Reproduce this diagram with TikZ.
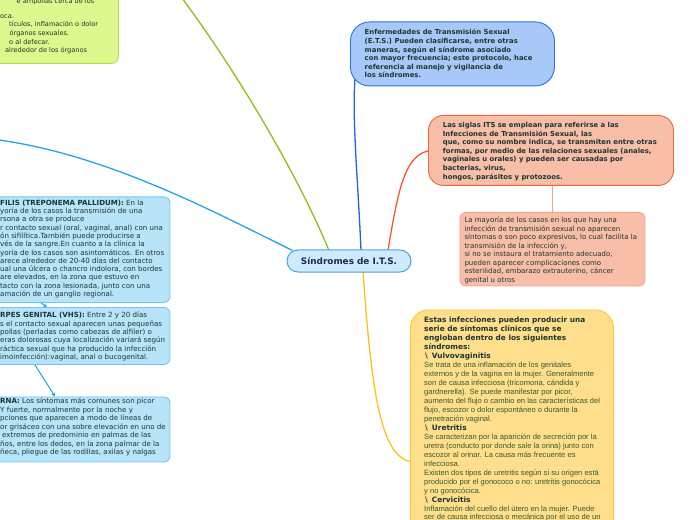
\documentclass[tikz,border=0pt]{standalone}
\usepackage{fontspec}
\setmainfont{DejaVu Sans}
\newfontfamily\libsans{Liberation Sans}
\usetikzlibrary{calc,arrows.meta}
\pgfdeclarelayer{bg}
\pgfsetlayers{bg,main}
\definecolor{gfill}{HTML}{DDF88C}
\definecolor{gline}{HTML}{B4DC55}
\definecolor{bfill}{HTML}{A8C8FA}
\definecolor{bline}{HTML}{2E6FE6}
\definecolor{sfill}{HTML}{F8BEA8}
\definecolor{sline}{HTML}{F06634}
\definecolor{stwoline}{HTML}{F5A48A}
\definecolor{lfill}{HTML}{B8E4FA}
\definecolor{lline}{HTML}{70C8F0}
\definecolor{cfill}{HTML}{CDEBFC}
\definecolor{cline}{HTML}{4AA3DE}
\definecolor{yfill}{HTML}{FFDE8C}
\definecolor{yline}{HTML}{FFC533}
\definecolor{cgreen}{HTML}{8CBE1E}
\definecolor{cblue}{HTML}{1FA5E8}
\definecolor{cdblue}{HTML}{2363E0}
\definecolor{corange}{HTML}{F05A28}
\definecolor{cyellow}{HTML}{FFBF1F}
\definecolor{tdark}{HTML}{1D3530}
\definecolor{tnavy}{HTML}{1B2B4E}
\definecolor{ytext}{HTML}{3A5A2C}
\newcommand\strt{\rule{0pt}{7bp}}
\newcommand\yb{\rmfamily\bfseries\fontsize{7.4}{9}\selectfont\color{tdark}}
\newcommand\yh[1]{{\yb\hspace*{1bp}\textbackslash\hspace{4bp}#1}}
\begin{document}
\begin{tikzpicture}[x=1bp,y=-1bp,
  box/.style={draw, line width=0.9bp, inner sep=0pt, anchor=north west},
  tx/.style={inner sep=0pt, align=left, anchor=north west, text=tdark},
  conn/.style={line width=1.3bp},
  lconn/.style={line width=1bp, draw=cblue, -{Stealth[length=4bp,width=4bp]}}]
\useasboundingbox (0,0) rectangle (696,520);
% boxes
\node[box, draw=gline, fill=gfill, rounded corners=7bp, minimum width=138bp, minimum height=83bp] (gbox) at (-20,-20) {};
\node[box, draw=bline, fill=bfill, rounded corners=19bp, minimum width=204bp, minimum height=64bp] (bbox) at (350,21.5) {};
\node[box, draw=sline, fill=sfill, rounded corners=15bp, minimum width=245bp, minimum height=70bp] (sbox) at (428,115) {};
\node[box, draw=stwoline, fill=sfill, rounded corners=6bp, minimum width=185bp, minimum height=73.5bp] (stwo) at (459.5,212) {};
\node[box, draw=lline, fill=lfill, rounded corners=6bp, minimum width=189.5bp, minimum height=105.5bp] (lbone) at (-20,196.5) {};
\node[box, draw=lline, fill=lfill, rounded corners=6bp, minimum width=189.5bp, minimum height=57bp] (lbtwo) at (-20,307) {};
\node[box, draw=lline, fill=lfill, rounded corners=6bp, minimum width=189.5bp, minimum height=65bp] (lbthree) at (-20,396.5) {};
\node[box, draw=yline, fill=yfill, rounded corners=18bp, minimum width=203bp, minimum height=240bp] (ybox) at (410,309.5) {};
\node[draw=cline, fill=cfill, rounded corners=11bp, minimum width=124bp, minimum height=22bp, line width=1bp, inner sep=0pt,
  font=\bfseries\fontsize{8.9}{10}\selectfont, text=tnavy] (c) at (349,261) {Síndromes de I.T.S.};
% connector ends
\coordinate (gend) at (176,-10);
\coordinate (lend) at (-30,137);
\begin{pgfonlayer}{bg}
\draw[conn, cgreen] ($(c.north)+(-20,1)$) .. controls (300,180) and (240,75) .. (gend);
\draw[conn, cblue] ($(c.north west)+(6,1)$) .. controls (210,210) and (90,145) .. (lend);
\draw[conn, cdblue] ($(c.north)+(12,1)$) .. controls (358,180) and (352,120) .. ($(bbox.south west)+(5,-8)$);
\draw[conn, corange] ($(c.north)+(39,1)$) .. controls (398,190) and (405,152) .. ($(sbox.west)+(4,0)$);
\draw[conn, cyellow] ($(c.south)+(14,-1)$) .. controls (372,400) and (382,462) .. ($(ybox.north west)+(5,152.5)$);
\draw[line width=1bp, stwoline] (stwo.north |- sbox.south) -- (stwo.north);
\end{pgfonlayer}
\draw[lconn] ($(lbone.south west)+(61,0)$) -- ($(lbtwo.north west)+(67,0)$);
\draw[lconn] ($(lbtwo.south west)+(55,0)$) -- ($(lbthree.north west)+(75,0)$);
% texts
\node[tx, font=\fontsize{6.6}{8.6}\selectfont] (tg) at (0,-4) {\strt\hspace*{16.5bp}e ampollas cerca de los\\[6.6bp]
oca.\\
\hspace*{9bp}tículos, inflamación o dolor\\
\hspace*{9.5bp}órganos sexuales.\\
\hspace*{9bp}o al defecar.\\
\hspace*{5bp}alrededor de los órganos};
\node[tx, font=\bfseries\fontsize{6.9}{8.55}\selectfont] (tb) at (364.5,27.8) {\strt Enfermedades de Transmisión Sexual\\
(E.T.S.) Pueden clasificarse, entre otras\\
maneras, según el síndrome asociado\\
con mayor frecuencia; este protocolo, hace\\
referencia al manejo y vigilancia de\\
los síndromes.};
\node[tx, font=\bfseries\fontsize{6.9}{8.6}\selectfont] (ts) at (442.7,120.5) {\strt Las siglas ITS se emplean para referirse a las\\
Infecciones de Transmisión Sexual, las\\
que, como su nombre indica, se transmiten entre otras\\
formas, por medio de las relaciones sexuales (anales,\\
vaginales u orales) y pueden ser causadas por\\
bacterias, virus,\\
hongos, parásitos y protozoos.};
\node[tx, font=\fontsize{7}{8.53}\selectfont] (tstwo) at (464.3,215.5) {\strt La mayoría de los casos en los que hay una\\
infección de transmisión sexual no aparecen\\
síntomas o son poco expresivos, lo cual facilita la\\
transmisión de la infección y,\\
si no se instaura el tratamiento adecuado,\\
pueden aparecer complicaciones como\\
esterilidad, embarazo extrauterino, cáncer\\
genital u otros};
\node[tx, font=\fontsize{7.1}{8.3}\selectfont] (tlone) at (0,198.2) {\strt{\bfseries FILIS (TREPONEMA PALLIDUM):} En la\\
yoría de los casos la transmisión de una\\
rsona a otra se produce\\
r contacto sexual (oral, vaginal, anal) con una\\
ón sifilítica.También puede producirse a\\
vés de la sangre.En cuanto a la clínica la\\
yoría de los casos son asintomáticos. En otros\\
arece alrededor de 20-40 días del contacto\\
ual una úlcera o chancro indolora, con bordes\\
are elevados, en la zona que estuvo en\\
tacto con la zona lesionada, junto con una\\
amación de un ganglio regional.};
\node[tx, font=\fontsize{7.1}{8.4}\selectfont] (tltwo) at (0,310.5) {\strt{\bfseries RPES GENITAL (VHS):} Entre 2 y 20 días\\
s el contacto sexual aparecen unas pequeñas\\
pollas (perladas como cabezas de alfiler) o\\
eras dolorosas cuya localización variará según\\
ráctica sexual que ha producido la infección\\
imoinfección):vaginal, anal o bucogenital.};
\node[tx, font=\fontsize{7.1}{8.5}\selectfont] (tlthree) at (0,396.5) {\strt{\bfseries RNA:} Los síntomas más comunes son picor\\
Y fuerte, normalmente por la noche y\\
pciones que aparecen a modo de líneas de\\
or grisáceo con una sobre elevación en uno de\\
\hspace*{2bp}extremos de predominio en palmas de las\\
ños, entre los dedos, en la zona palmar de la\\
ñeca, pliegue de las rodillas, axilas y nalgas};
\node[tx, text=ytext, font=\libsans\fontsize{7.6}{9}\selectfont] (ty) at (424,315.5) {\strt{\yb Estas infecciones pueden producir una}\\
{\yb serie de síntomas clínicos que se}\\
{\yb engloban dentro de los siguientes}\\
{\yb síndromes:}\\
\yh{Vulvovaginitis}\\
Se trata de una inflamación de los genitales\\
externos y de la vagina en la mujer. Generalmente\\
son de causa infecciosa (tricomona, cándida y\\
gardnerella). Se puede manifestar por picor,\\
aumento del flujo o cambio en las características del\\
flujo, escozor o dolor espontáneo o durante la\\
penetración vaginal.\\
\yh{Uretritis}\\
Se caracterizan por la aparición de secreción por la\\
uretra (conducto por donde sale la orina) junto con\\
escozor al orinar. La causa más frecuente es\\
infecciosa.\\
Existen dos tipos de uretritis según si su origen está\\
producido por el gonococo o no: uretritis gonocócica\\
y no gonocócica.\\
\yh{Cervicitis}\\
Inflamación del cuello del útero en la mujer. Puede\\
ser de causa infecciosa o mecánica por el uso de un};
\end{tikzpicture}
\end{document}
